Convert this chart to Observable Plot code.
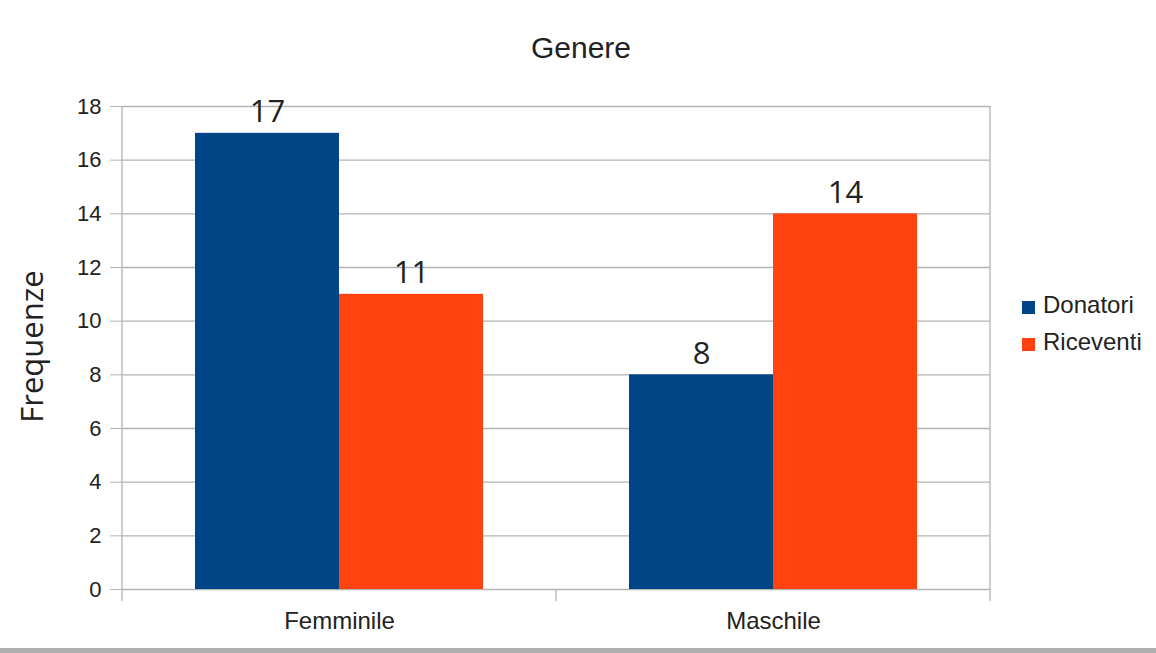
<!DOCTYPE html>
<html><head><meta charset="utf-8">
<script src="https://cdn.jsdelivr.net/npm/d3@7"></script>
<script src="https://cdn.jsdelivr.net/npm/@observablehq/plot@0.6"></script>
<style>
html,body{margin:0;padding:0;background:#fff;}
#wrap{position:relative;width:1156px;height:653px;overflow:hidden;}
#strip{position:absolute;left:0;top:648px;width:1156px;height:5px;background:#b0b0b0;}
</style></head><body><div id="wrap"><div id="strip"></div></div>
<script>
const title = "Genere";
const yLabel = "Frequenze";
const categories = ["Femminile", "Maschile"];
const series = ["Donatori", "Riceventi"];
const donatori = [17, 8];
const riceventi = [11, 14];
const yTicks = [0, 2, 4, 6, 8, 10, 12, 14, 16, 18];
const colors = ["#004586", "#ff420e"];

const data = categories.flatMap((c, i) => [
  {genere: c, serie: series[0], value: donatori[i]},
  {genere: c, serie: series[1], value: riceventi[i]}
]);

const grid = "#b3b3b3";
const plot = Plot.plot({
  width: 1156, height: 648,
  marginLeft: 122, marginRight: 166, marginTop: 106, marginBottom: 59,
  style: {fontFamily: "'Liberation Sans', Arial, sans-serif", color: "#222", background: "transparent"},
  fx: {domain: categories, padding: 0},
  x: {domain: series, paddingInner: 0, paddingOuter: 0.5, axis: null},
  y: {domain: [0, 18]},
  color: {domain: series, range: colors},
  marks: [
    Plot.ruleY(yTicks, {stroke: grid, strokeWidth: 1.3}),
    Plot.barY(data, {fx: "genere", x: "serie", y: "value", fill: "serie"}),
    Plot.text(data, {fx: "genere", x: "serie", y: "value", text: d => String(d.value),
      lineAnchor: "bottom", dy: -11, fontSize: 31, fontFamily: "'Open Sans', sans-serif", fill: "#222"}),
    Plot.axisY({ticks: yTicks, tickSize: 12, tickPadding: 9, fontSize: 22, label: null, stroke: grid}),
    Plot.axisFx({anchor: "bottom", tickSize: 0, tickPadding: 22, fontSize: 24, label: null})
  ]
});
document.getElementById("wrap").prepend(plot);

const svg = d3.select(plot);
const fx = plot.scale("fx"), y = plot.scale("y");
// boundaries of the category bands
const bw = fx.bandwidth;
const b = [fx.apply(categories[0]), fx.apply(categories[1]), fx.apply(categories[1]) + bw];
const yTop = y.apply(18), yBot = y.apply(0);
const g = svg.append("g").attr("stroke", grid).attr("stroke-width", 1.3);
g.append("line").attr("x1", b[0]).attr("x2", b[0]).attr("y1", yTop).attr("y2", yBot + 12);
g.append("line").attr("x1", b[2]).attr("x2", b[2]).attr("y1", yTop).attr("y2", yBot + 12);
g.append("line").attr("x1", b[1]).attr("x2", b[1]).attr("y1", yBot).attr("y2", yBot + 12);

svg.append("text").text(title).attr("x", 581).attr("y", 58)
  .attr("text-anchor", "middle").attr("font-size", 30).attr("fill", "#222")
  .attr("font-family", "'Liberation Sans', Arial, sans-serif");
svg.append("text").text(yLabel).attr("transform", `translate(43,${(yTop + yBot) / 2 - 1}) rotate(-90)`)
  .attr("text-anchor", "middle").attr("font-size", 31).attr("fill", "#222")
  .attr("font-family", "'Open Sans', sans-serif");
const leg = svg.append("g").attr("font-size", 24).attr("fill", "#222").attr("text-anchor", "start")
  .attr("font-family", "'Liberation Sans', Arial, sans-serif");
series.forEach((s, i) => {
  const by = 313 + i * 37;
  leg.append("rect").attr("x", 1022).attr("y", by - 12).attr("width", 13).attr("height", 13).attr("fill", colors[i]);
  leg.append("text").attr("x", 1043).attr("y", by).attr("text-anchor", "start").text(s);
});
</script>
</body></html>
